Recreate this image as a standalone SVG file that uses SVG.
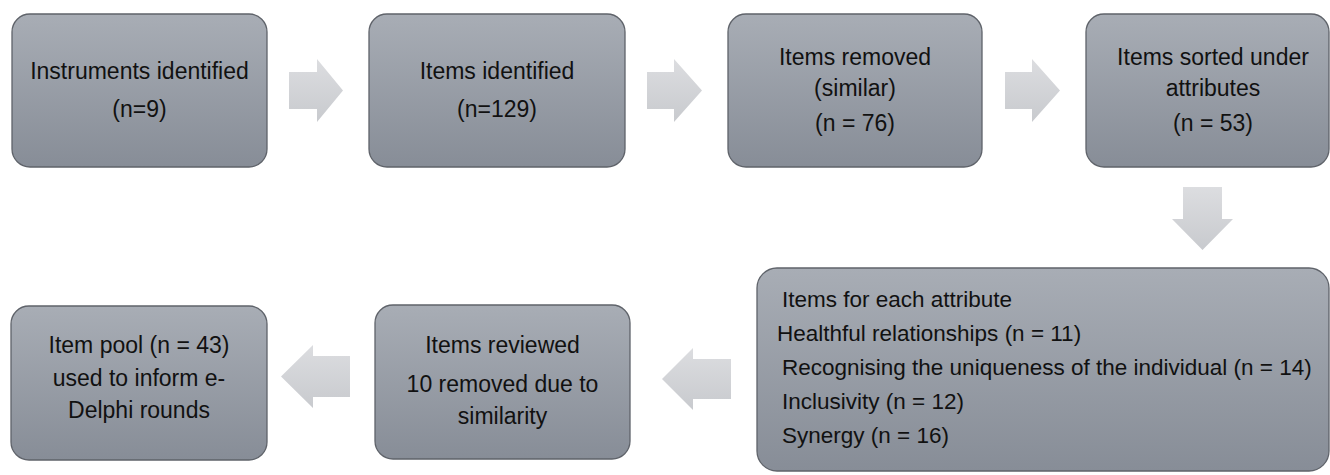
<svg xmlns="http://www.w3.org/2000/svg" width="1330" height="475" viewBox="0 0 1330 475">
  <defs>
    <linearGradient id="boxFill" x1="0" y1="0" x2="0" y2="1">
      <stop offset="0" stop-color="#a8adb5"/>
      <stop offset="1" stop-color="#878d97"/>
    </linearGradient>
    <linearGradient id="arrowFill" x1="0" y1="0" x2="0" y2="1">
      <stop offset="0" stop-color="#dcdde0"/>
      <stop offset="1" stop-color="#c8cace"/>
    </linearGradient>
  </defs>
  <style>
    .box { fill: url(#boxFill); stroke: #5f636a; stroke-width: 1.3; }
    .arrow { fill: url(#arrowFill); stroke: none; }
    .t { font-family: "Liberation Sans", Arial, sans-serif; font-size: 23px; fill: #111111; }
    .s { font-size: 22.5px; }
    .c { text-anchor: middle; }
  </style>

  <g id="connectors">
    <polygon class="arrow" points="289,72 317,72 317,59 343,90.5 317,122 317,109 289,109"/>
    <polygon class="arrow" points="647,72 674,72 674,59 702,90.5 674,122 674,109 647,109"/>
    <polygon class="arrow" points="1005,72 1032,72 1032,59 1060,90.5 1032,122 1032,109 1005,109"/>
    <polygon class="arrow" points="1183,187 1222,187 1222,219 1233,219 1202.5,250 1172,219 1183,219"/>
    <polygon class="arrow" points="731,359 693,359 693,348 662,379 693,410 693,399 731,399"/>
    <polygon class="arrow" points="350,356 313,356 313,345 281,376.5 313,408 313,397 350,397"/>
  </g>

  <g id="node1">
    <rect class="box" x="12" y="14" width="255" height="153" rx="18"/>
    <text class="t c" x="139.5" y="79">Instruments identified</text>
    <text class="t c" x="139.5" y="117">(n=9)</text>
  </g>

  <g id="node2">
    <rect class="box" x="369" y="14" width="256" height="153" rx="18"/>
    <text class="t c" x="497" y="79">Items identified</text>
    <text class="t c" x="497" y="117">(n=129)</text>
  </g>

  <g id="node3">
    <rect class="box" x="728" y="14" width="254" height="153" rx="18"/>
    <text class="t c" x="855" y="65">Items removed</text>
    <text class="t c" x="855" y="96">(similar)</text>
    <text class="t c" x="855" y="131">(n = 76)</text>
  </g>

  <g id="node4">
    <rect class="box" x="1086" y="14" width="243" height="153" rx="18"/>
    <text class="t c" x="1213" y="65">Items sorted under</text>
    <text class="t c" x="1213" y="96">attributes</text>
    <text class="t c" x="1213" y="131">(n = 53)</text>
  </g>

  <g id="node5">
    <rect class="box" x="757" y="268" width="572" height="203" rx="20"/>
    <text class="t s" x="782" y="307">Items for each attribute</text>
    <text class="t s" x="777" y="341">Healthful relationships (n = 11)</text>
    <text class="t s" x="782" y="375">Recognising the uniqueness of the individual (n = 14)</text>
    <text class="t s" x="782" y="409">Inclusivity (n = 12)</text>
    <text class="t s" x="782" y="443">Synergy (n = 16)</text>
  </g>

  <g id="node6">
    <rect class="box" x="375" y="305" width="255" height="154" rx="18"/>
    <text class="t c" x="502.5" y="353">Items reviewed</text>
    <text class="t c" x="502.5" y="392">10 removed due to</text>
    <text class="t c" x="502.5" y="424">similarity</text>
  </g>

  <g id="node7">
    <rect class="box" x="11" y="306" width="256" height="154" rx="18"/>
    <text class="t c" x="139" y="353">Item pool (n = 43)</text>
    <text class="t c" x="139" y="386">used to inform e-</text>
    <text class="t c" x="139" y="418">Delphi rounds</text>
  </g>
</svg>
